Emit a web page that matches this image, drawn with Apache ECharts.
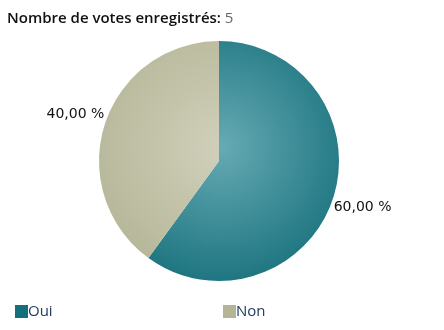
<!DOCTYPE html>
<html><head><meta charset="utf-8">
<script src="https://cdn.jsdelivr.net/npm/echarts@6/dist/echarts.min.js"></script>
<style>html,body{margin:0;padding:0;background:#fff}#c{width:444px;height:330px}</style>
</head><body><div id="c"></div>
<script>
const categories = ['Oui', 'Non'];
const values = [3, 2];
const totalVotes = 5;
const labels = ['60,00 %', '40,00 %'];

const cx = 219, cy = 161, R = 120;
function grad(inner, outer) {
  return new echarts.graphic.RadialGradient(cx + 2, cy - 14, 150, [
    { offset: 0, color: inner }, { offset: 1, color: outer }
  ], true);
}
const fills = [grad('#66aab4', '#16707b'), grad('#d1cfba', '#b3b596')];
const legendColors = ['#1e7f8c', '#b8bb9c'];

const chart = echarts.init(document.getElementById('c'));
chart.setOption({
  animation: false,
  title: {
    left: 2, top: 6,
    text: '{a|Nombre de votes enregistrés: }{b|' + totalVotes + '}',
    textStyle: { rich: {
      a: { fontFamily: 'Open Sans', fontSize: 15, fontWeight: 600, color: '#111' },
      b: { fontFamily: 'Open Sans', fontSize: 15, fontWeight: 'normal', color: '#666' }
    } }
  },
  legend: [
    { data: [categories[0]], left: 10, top: 299, itemWidth: 13, itemHeight: 13, icon: 'rect', itemGap: 5,
      textStyle: { fontFamily: 'Open Sans', fontSize: 15, color: '#1f3b63', padding: [0, 0, 0, -5] } },
    { data: [categories[1]], left: 218, top: 299, itemWidth: 13, itemHeight: 13, icon: 'rect',
      textStyle: { fontFamily: 'Open Sans', fontSize: 15, color: '#1f3b63', padding: [0, 0, 0, -5] } }
  ],
  series: [
    {
      type: 'pie', center: [cx, cy], radius: [0, R], startAngle: 90, clockwise: true,
      label: { show: false }, labelLine: { show: false }, silent: true,
      data: categories.map((n, i) => ({ name: n, value: values[i], itemStyle: { color: fills[i] } }))
    },
    {
      type: 'pie', center: [cx, cy], radius: [R + 26, R + 30], startAngle: 90, clockwise: true,
      silent: true, legendHoverLink: false,
      itemStyle: { color: 'rgba(0,0,0,0)' },
      label: { show: true, position: 'inside', fontFamily: 'DejaVu Sans', fontSize: 14, color: '#111',
        formatter: p => labels[p.dataIndex] },
      labelLine: { show: false },
      data: categories.map((n, i) => ({ name: n + ' ', value: values[i] }))
    }
  ],
  color: legendColors
});
</script></body></html>
